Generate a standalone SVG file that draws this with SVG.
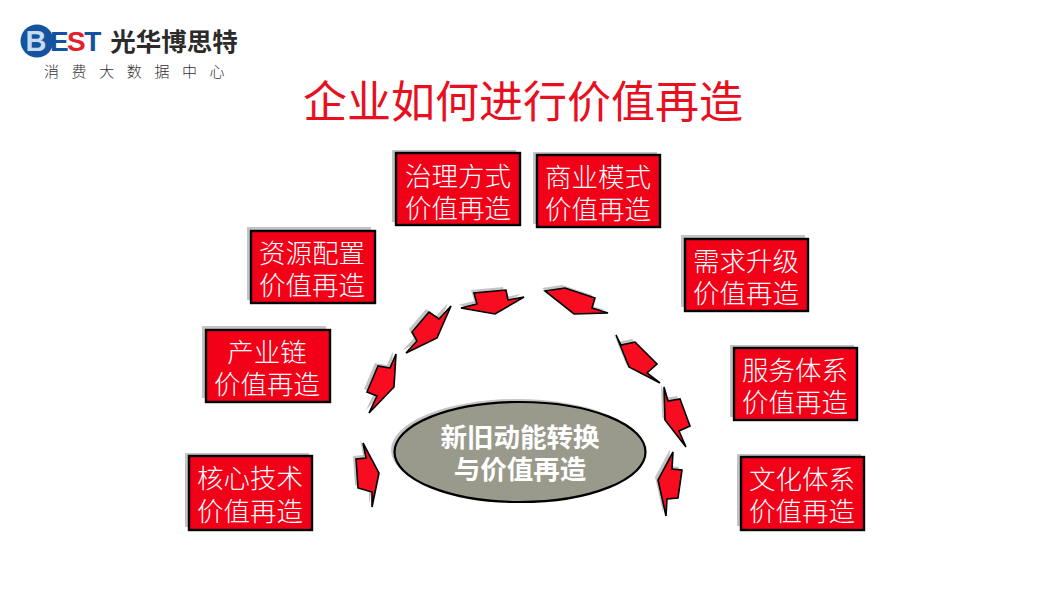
<svg xmlns="http://www.w3.org/2000/svg" width="1059" height="594" viewBox="0 0 1059 594">
<defs>
<style>
text{font-family:"Noto Sans CJK SC","Noto Sans",sans-serif;text-anchor:middle}
.bs{fill:#c4c4c4}
.b{fill:#f10018;stroke:#000;stroke-width:2.4}
.t{fill:#fff;font-size:26.5px;font-weight:300}
.as{fill:#c4c4c4}
.a{fill:#f70d1f;stroke:#000;stroke-width:1.6;stroke-linejoin:miter}
</style>
</defs>
<rect width="1059" height="594" fill="#fff"/>
<g id="logo">
<circle cx="37" cy="41" r="16.500" fill="#14539f"/>
<text x="36" y="51" style="font-size:29px;font-weight:900;font-family:'Liberation Sans',sans-serif" fill="#c6daf0">B</text>
<text x="50" y="51" style="font-size:28px;font-weight:700;font-family:'Liberation Sans',sans-serif;text-anchor:start;letter-spacing:-1.600px" fill="#14539f">E<tspan fill="#e5202c">S</tspan>T</text>
<text x="174" y="51" style="font-size:25.500px;font-weight:700" fill="#2b2b2b">光华博思特</text>
<text x="44" y="77" style="font-size:15px;font-weight:300;letter-spacing:12.600px;text-anchor:start" fill="#333">消费大数据中心</text>
</g>
<text id="title" x="523" y="118" style="font-size:44px;font-weight:400" fill="#e8101f">企业如何进行价值再造</text>
<g id="connectors">
<g transform="translate(-3,-3)" class="as">
<polygon points="363,443 366,458 356,459 358,488 372,492 372,507 379,473"/>
<polygon points="396,354 390,368 378,366 367,392 377,396 369,413 394,387"/>
<polygon points="451,306 439,319 429,312 412,332 417,341 406,353 437,338"/>
<polygon points="524,297 508,300 506,290 474,293 477,304 461,308 495,314"/>
<polygon points="545,291 565,288 595,298 592,308 608,313 574,314"/>
<polygon points="616,335 621,345 635,342 657,364 647,373 660,383 629,367"/>
<polygon points="664,387 668,401 680,399 690,426 679,431 686,447 665,420"/>
<polygon points="673,452 672,469 682,470 678,498 667,499 666,516 658,480"/>
</g>
<polygon class="a" points="363,443 366,458 356,459 358,488 372,492 372,507 379,473"/>
<polygon class="a" points="396,354 390,368 378,366 367,392 377,396 369,413 394,387"/>
<polygon class="a" points="451,306 439,319 429,312 412,332 417,341 406,353 437,338"/>
<polygon class="a" points="524,297 508,300 506,290 474,293 477,304 461,308 495,314"/>
<polygon class="a" points="545,291 565,288 595,298 592,308 608,313 574,314"/>
<polygon class="a" points="616,335 621,345 635,342 657,364 647,373 660,383 629,367"/>
<polygon class="a" points="664,387 668,401 680,399 690,426 679,431 686,447 665,420"/>
<polygon class="a" points="673,452 672,469 682,470 678,498 667,499 666,516 658,480"/>
</g>
<g id="n-core"><rect class="bs" x="185" y="453" width="124" height="74"/><rect class="b" x="189" y="456" width="123" height="74"/><text class="t"><tspan x="250" y="488">核心技术</tspan><tspan x="250" y="521">价值再造</tspan></text></g>
<g id="n-chain"><rect class="bs" x="202" y="326" width="124" height="72"/><rect class="b" x="206" y="330" width="124" height="72"/><text class="t"><tspan x="267" y="362">产业链</tspan><tspan x="267" y="394">价值再造</tspan></text></g>
<g id="n-resource"><rect class="bs" x="247" y="227" width="124" height="73"/><rect class="b" x="251" y="231" width="124" height="72"/><text class="t"><tspan x="312" y="263">资源配置</tspan><tspan x="312" y="295">价值再造</tspan></text></g>
<g id="n-govern"><rect class="bs" x="392" y="150" width="124" height="72"/><rect class="b" x="396" y="153" width="124" height="72"/><text class="t"><tspan x="458" y="186">治理方式</tspan><tspan x="458" y="218">价值再造</tspan></text></g>
<g id="n-business"><rect class="bs" x="533" y="152" width="124" height="72"/><rect class="b" x="537" y="155" width="123" height="72"/><text class="t"><tspan x="598" y="187">商业模式</tspan><tspan x="598" y="219">价值再造</tspan></text></g>
<g id="n-demand"><rect class="bs" x="681" y="235" width="124" height="72"/><rect class="b" x="685" y="239" width="123" height="72"/><text class="t"><tspan x="746" y="271">需求升级</tspan><tspan x="746" y="303">价值再造</tspan></text></g>
<g id="n-service"><rect class="bs" x="730" y="345" width="124" height="72"/><rect class="b" x="734" y="348" width="123" height="72"/><text class="t"><tspan x="795" y="380">服务体系</tspan><tspan x="795" y="412">价值再造</tspan></text></g>
<g id="n-culture"><rect class="bs" x="737" y="454" width="124" height="72"/><rect class="b" x="741" y="457" width="123" height="73"/><text class="t"><tspan x="802" y="489">文化体系</tspan><tspan x="802" y="521">价值再造</tspan></text></g>
<g id="n-center">
<ellipse cx="517" cy="450" rx="126" ry="51" fill="#c4c4c4"/>
<ellipse cx="520" cy="452" rx="125.500" ry="50" fill="#9a9a8c" stroke="#000" stroke-width="2.200"/>
<text style="font-size:26.500px;font-weight:700" fill="#fff"><tspan x="520" y="447">新旧动能转换</tspan><tspan x="520" y="479">与价值再造</tspan></text>
</g>
</svg>
